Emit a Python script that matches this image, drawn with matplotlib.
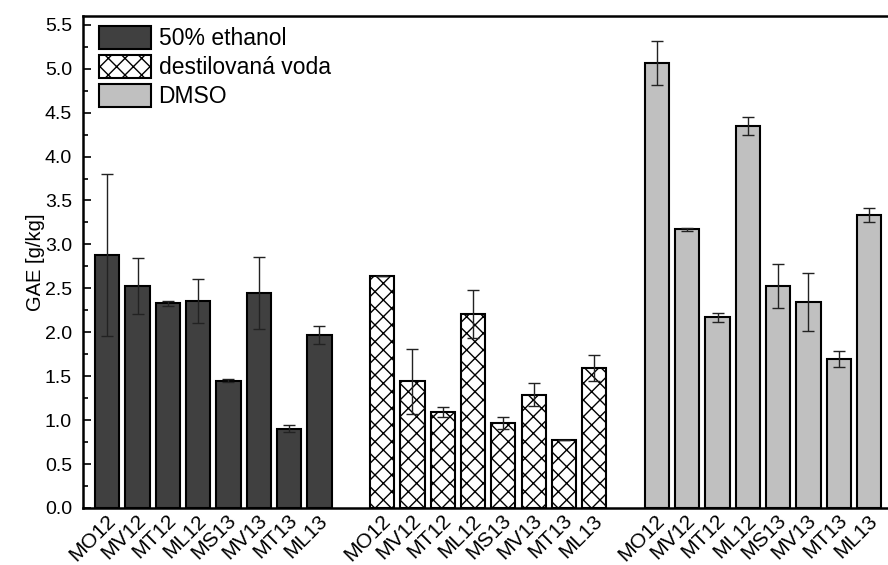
import numpy as np
import matplotlib
matplotlib.use("Agg")
import matplotlib.pyplot as plt
from matplotlib.transforms import ScaledTranslation

plt.rcParams['font.family'] = ['Liberation Sans', 'DejaVu Sans']
plt.rcParams['hatch.linewidth'] = 1.0

samples = ["MO12", "MV12", "MT12", "ML12", "MS13", "MV13", "MT13", "ML13"]
solvents = ["50% ethanol", "destilovaná voda", "DMSO"]

ethanol = [2.88, 2.53, 2.33, 2.36, 1.45, 2.45, 0.90, 1.97]
ethanol_err = [0.92, 0.32, 0.03, 0.25, 0.02, 0.41, 0.04, 0.10]

water = [2.64, 1.44, 1.09, 2.21, 0.97, 1.29, 0.77, 1.59]
water_err = [0.00, 0.37, 0.06, 0.27, 0.07, 0.13, 0.00, 0.15]

dmso = [5.06, 3.17, 2.17, 4.35, 2.53, 2.34, 1.70, 3.33]
dmso_err = [0.25, 0.02, 0.05, 0.10, 0.25, 0.33, 0.09, 0.08]

fig = plt.figure(figsize=(8.88, 5.65), dpi=100)
ax = fig.add_axes([0.0935, 0.1009, 0.92, 0.8708])

styles = [
    dict(color="#404040", hatch=None),
    dict(color="white", hatch="xx"),
    dict(color="#c0c0c0", hatch=None),
]
data = [(ethanol, ethanol_err), (water, water_err), (dmso, dmso_err)]

pos = []
names = []
for g, ((vals, errs), st) in enumerate(zip(data, styles)):
    x = np.arange(len(samples)) + g * 9.07
    ax.bar(x, vals, width=0.8, color=st["color"], hatch=st["hatch"],
           edgecolor="black", linewidth=1.5, label=solvents[g], zorder=2)
    ax.errorbar(x, vals, yerr=errs, fmt="none", ecolor="#222222",
                elinewidth=1.0, capsize=4, capthick=1.0, zorder=3)
    pos.extend(x)
    names.extend(samples)

ax.set_xlim(-0.8, 26.16)
ax.set_ylim(0, 5.6)
ax.set_yticks(np.arange(0, 5.51, 0.5))
ax.set_yticks(np.arange(0.25, 5.6, 0.5), minor=True)
ax.yaxis.set_major_formatter(matplotlib.ticker.FormatStrFormatter("%.1f"))
ax.tick_params(axis="y", which="major", direction="in", length=6, width=1.2,
               labelsize=14, pad=8)
ax.tick_params(axis="y", which="minor", direction="in", length=3.5, width=1.2)
ax.set_xticks(pos)
ax.set_xticklabels(names, rotation=45, ha="right", va="center",
                   rotation_mode="anchor", fontsize=15)
ax.tick_params(axis="x", length=0, pad=7)
# nudge the slanted sample names a little to the right
shift = ScaledTranslation(0.05, 0, fig.dpi_scale_trans)
for lbl in ax.get_xticklabels():
    lbl.set_transform(lbl.get_transform() + shift)
ax.set_ylabel("GAE [g/kg]", fontsize=14.5, labelpad=0)

for s in ["left", "bottom", "top"]:
    ax.spines[s].set_linewidth(1.8)
ax.spines["right"].set_visible(False)

ax.legend(loc="upper left", bbox_to_anchor=(0.0075, 1.0), frameon=False,
          fontsize=16.5, handlelength=2.23, handleheight=1.12,
          labelspacing=0.22, handletextpad=0.35, borderpad=0.45,
          borderaxespad=0.0)

fig.savefig("out.png", dpi=100)
